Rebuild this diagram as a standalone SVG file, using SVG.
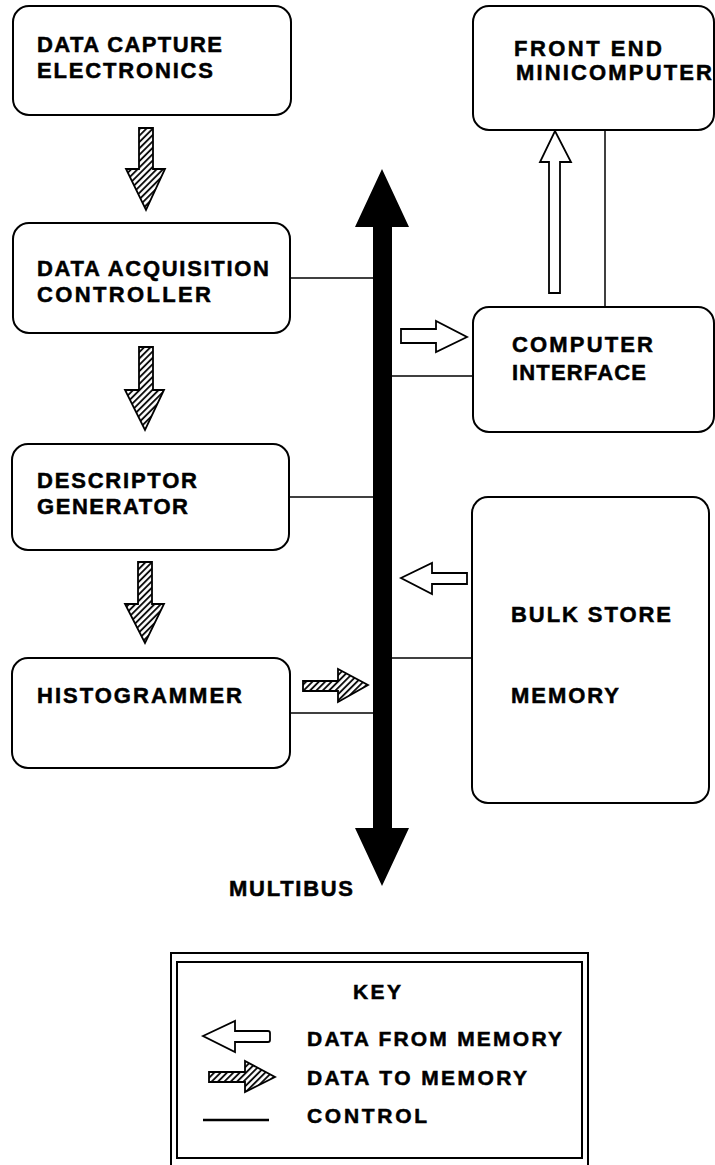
<svg xmlns="http://www.w3.org/2000/svg" width="715" height="1165" viewBox="0 0 715 1165">
<style>
.box{fill:#fff;stroke:#000;stroke-width:2}
.t{font-family:"Liberation Sans",Arial,sans-serif;font-weight:bold;font-size:22px;fill:#000;stroke:#000;stroke-width:0.5}
.k{font-size:21px}
.ctl{stroke:#000;stroke-width:1.5;fill:none}
.hatch{fill:url(#hatch);stroke:#000;stroke-width:1.8;stroke-linejoin:miter}
.hollow{fill:#fff;stroke:#000;stroke-width:1.8}
</style>
<defs>
<pattern id="hatch" patternUnits="userSpaceOnUse" width="4.5" height="4.5" patternTransform="rotate(45)">
<rect width="4.5" height="4.5" fill="#fff"/>
<line x1="1" y1="0" x2="1" y2="4.5" stroke="#000" stroke-width="1.8"/>
</pattern>
</defs>

<g id="connectors">
<line class="ctl" x1="290" y1="278" x2="374" y2="278"/>
<line class="ctl" x1="289" y1="497" x2="374" y2="497"/>
<line class="ctl" x1="290" y1="713" x2="374" y2="713"/>
<line class="ctl" x1="391" y1="376" x2="473" y2="376"/>
<line class="ctl" x1="391" y1="658" x2="472" y2="658"/>
<line class="ctl" x1="605" y1="130" x2="605" y2="307"/>
<path class="hatch" d="M139,128 H153 V169 H165 L146,210 L126,169 H139 Z"/>
<path class="hatch" d="M139,347 H153 V390 H164 L145,430 L125,390 H139 Z"/>
<path class="hatch" d="M138,562 H152 V604 H164 L145,643 L125,604 H138 Z"/>
<path class="hatch" d="M303,681 H338 V669 L368,685 L338,702 V691 H303 Z"/>
<path class="hollow" d="M401,329 H436 V321 L467,337 L436,352 V343 H401 Z"/>
<path class="hollow" d="M549,293 V162 H540 L555,131 L571,162 H560 V293 Z"/>
<path class="hollow" d="M467,573 V584 H432 V594 L401,578 L432,563 V573 Z"/>
</g>

<g id="multibus">
<path d="M382,169 L409,227 H392 V828 H409 L382,886 L355,828 H373 V227 H355 Z" fill="#000"/>
<text class="t" x="229" y="896" textLength="124" lengthAdjust="spacing">MULTIBUS</text>
</g>

<g id="data-capture">
<rect class="box" x="13" y="6" width="278" height="109" rx="16"/>
<text class="t" x="37" y="52" textLength="185" lengthAdjust="spacing">DATA CAPTURE</text>
<text class="t" x="37" y="78" textLength="176" lengthAdjust="spacing">ELECTRONICS</text>
</g>

<g id="data-acquisition">
<rect class="box" x="13" y="223" width="277" height="110" rx="16"/>
<text class="t" x="37" y="276" textLength="232" lengthAdjust="spacing">DATA ACQUISITION</text>
<text class="t" x="37" y="302" textLength="174" lengthAdjust="spacing">CONTROLLER</text>
</g>

<g id="descriptor">
<rect class="box" x="12" y="444" width="277" height="106" rx="16"/>
<text class="t" x="37" y="488" textLength="160" lengthAdjust="spacing">DESCRIPTOR</text>
<text class="t" x="37" y="514" textLength="151" lengthAdjust="spacing">GENERATOR</text>
</g>

<g id="histogrammer">
<rect class="box" x="12" y="658" width="278" height="110" rx="16"/>
<text class="t" x="37" y="703" textLength="205" lengthAdjust="spacing">HISTOGRAMMER</text>
</g>

<g id="front-end">
<rect class="box" x="473" y="6" width="241" height="124" rx="16"/>
<text class="t" x="514" y="56" textLength="148" lengthAdjust="spacing">FRONT END</text>
<text class="t" x="516" y="80" textLength="196" lengthAdjust="spacing">MINICOMPUTER</text>
</g>

<g id="computer-interface">
<rect class="box" x="473" y="307" width="241" height="125" rx="16"/>
<text class="t" x="512" y="352" textLength="141" lengthAdjust="spacing">COMPUTER</text>
<text class="t" x="512" y="380" textLength="134" lengthAdjust="spacing">INTERFACE</text>
</g>

<g id="bulk-store">
<rect class="box" x="472" y="497" width="237" height="306" rx="16"/>
<text class="t" x="511" y="622" textLength="160" lengthAdjust="spacing">BULK STORE</text>
<text class="t" x="511" y="703" textLength="108" lengthAdjust="spacing">MEMORY</text>
</g>

<g id="key">
<rect x="171" y="953" width="417" height="215" fill="#fff" stroke="#000" stroke-width="2"/>
<rect x="177" y="962" width="405" height="196" fill="none" stroke="#000" stroke-width="2"/>
<text class="t k" x="353" y="999" textLength="48" lengthAdjust="spacing">KEY</text>
<path class="hollow" d="M203,1036 L235,1021 V1031 H268 Q270,1031 270,1033 V1040 Q270,1042 268,1042 H235 V1052 Z"/>
<text class="t k" x="307" y="1046" textLength="255" lengthAdjust="spacing">DATA FROM MEMORY</text>
<path class="hatch" d="M209,1072 H245 V1061 L275,1077 L245,1092 V1082 H209 Z"/>
<text class="t k" x="307" y="1085" textLength="220" lengthAdjust="spacing">DATA TO MEMORY</text>
<line x1="203" y1="1120" x2="269" y2="1120" stroke="#000" stroke-width="2.5"/>
<text class="t k" x="307" y="1123" textLength="120" lengthAdjust="spacing">CONTROL</text>
</g>
</svg>
